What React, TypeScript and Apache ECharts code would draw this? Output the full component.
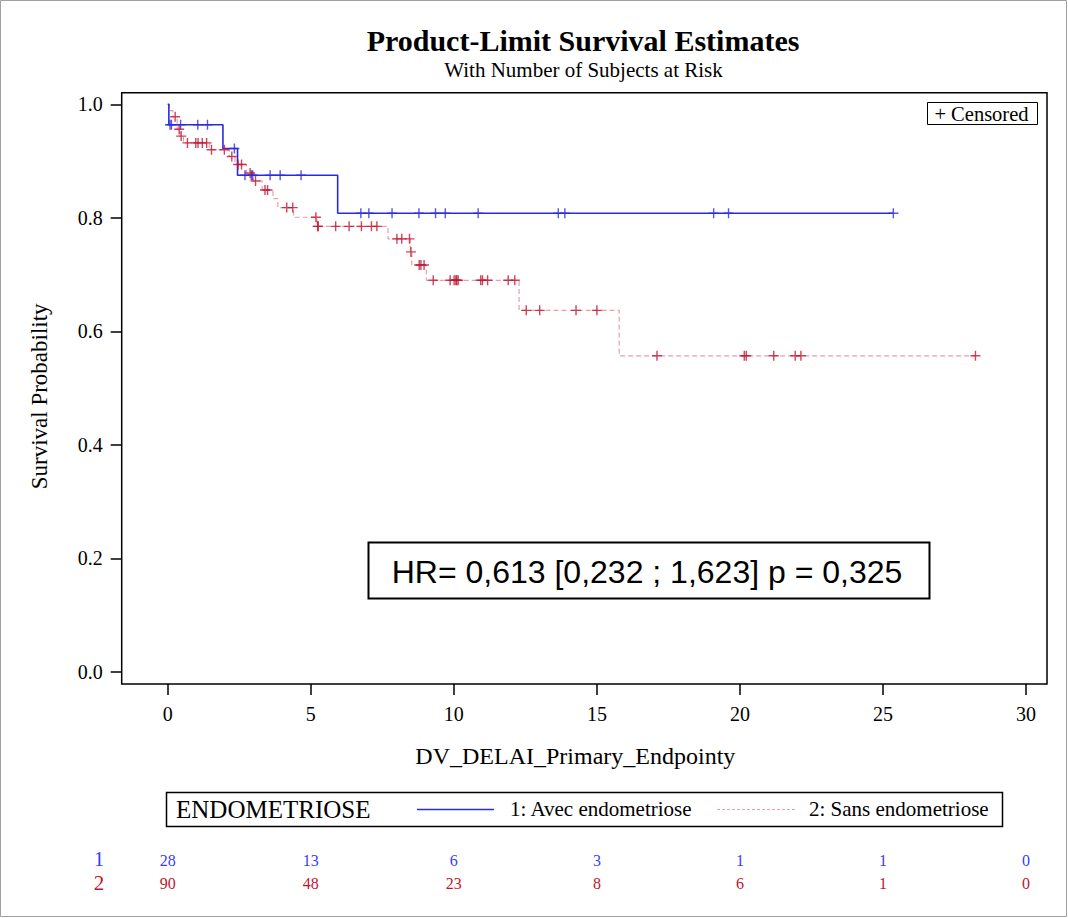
import React, { useEffect, useRef } from "react";
import * as echarts from "echarts";

// ---- Data ----
const xTicks = [0, 5, 10, 15, 20, 25, 30];
const yTicks = [0, 0.2, 0.4, 0.6, 0.8, 1.0];

// Group 1: Avec endometriose (Kaplan-Meier steps)
const blueEventTimes = [0, 0.04, 1.93, 2.44, 5.94];
const blueSurvival = [1, 0.964, 0.922, 0.875, 0.808];
const blueLastTime = 25.36;
const blueCensorTimes = [
  0.08, 0.13, 0.45, 1.05, 1.39, 2.33, 2.7, 2.92, 2.97, 3.58, 3.93, 4.66,
  6.75, 7.03, 7.84, 8.78, 9.36, 9.7, 10.85, 13.65, 13.88, 19.08, 19.6, 25.36,
];

// Group 2: Sans endometriose
const redEventTimes = [
  0, 0.06, 0.18, 0.33, 0.43, 0.55, 1.45, 2.15, 2.35, 2.75, 3.0, 3.3, 3.68,
  3.85, 4.4, 5.22, 7.7, 8.48, 8.53, 9.04, 12.28, 15.78,
];
const redSurvival = [
  1, 0.989, 0.978, 0.956, 0.944, 0.932, 0.92, 0.908, 0.894, 0.879, 0.865,
  0.849, 0.834, 0.818, 0.801, 0.785, 0.763, 0.74, 0.717, 0.69, 0.637, 0.557,
];
const redLastTime = 28.23;
const redCensorTimes = [
  0.26, 0.4, 0.47, 0.69, 0.98, 1.06, 1.21, 1.36, 1.53, 1.98, 2.24, 2.46,
  2.58, 2.88, 3.07, 3.4, 3.49, 4.16, 4.37, 5.18, 5.24, 5.26, 5.87, 6.34,
  6.77, 7.12, 7.31, 8.01, 8.18, 8.45, 8.5, 8.79, 8.85, 8.96, 9.28, 9.87,
  10.01, 10.07, 10.1, 10.15, 10.94, 11.0, 11.18, 11.9, 12.13, 12.53, 13.0,
  14.27, 15.0, 17.1, 20.15, 20.22, 21.18, 21.93, 22.13, 28.23,
];

const atRiskBlue = [28, 13, 6, 3, 1, 1, 0];
const atRiskRed = [90, 48, 23, 8, 6, 1, 0];

const hrText = "HR= 0,613 [0,232 ; 1,623] p = 0,325";

// ---- Styles ----
const BLUE = "#2a2ae0";
const BLUE_TEXT = "#3b3bff";
const RED = "#c0142e";
const PINK = "#e8a0aa";
const SERIF = "'Liberation Serif', 'Times New Roman', serif";
const SANS = "'Liberation Sans', Arial, sans-serif";
const PLUS = "path://M0,4.3H10V5.7H0ZM4.3,0H5.7V10H4.3Z";

const X_MIN = -1.608;
const X_MAX = 30.73;

function survivalAt(times: number[], surv: number[], t: number) {
  let s = surv[0];
  for (let i = 0; i < times.length; i++) {
    if (times[i] <= t) s = surv[i];
  }
  return s;
}

function stepData(times: number[], surv: number[], last: number) {
  const d = times.map((t, i) => [t, surv[i]]);
  d.push([last, surv[surv.length - 1]]);
  return d;
}

export default function App() {
  const ref = useRef<HTMLDivElement>(null);

  useEffect(() => {
    if (!ref.current) return;
    const chart = echarts.init(ref.current, null, { renderer: "svg" });

    const atRiskAxis = (vals: number[], color: string, offset: number) => ({
      type: "value",
      gridIndex: 0,
      position: "bottom",
      offset,
      min: X_MIN,
      max: X_MAX,
      axisLine: { show: false, onZero: false },
      axisTick: { show: false },
      splitLine: { show: false },
      axisLabel: {
        customValues: xTicks,
        margin: 0,
        verticalAlign: "middle",
        color,
        fontFamily: SERIF,
        fontSize: 16,
        formatter: (v: number) => String(vals[xTicks.indexOf(Math.round(v))]),
      },
    });

    const option: any = {
      animation: false,
      backgroundColor: "#ffffff",
      grid: {
        left: 121.7,
        right: 21,
        top: 92.7,
        bottom: 234,
        show: true,
        borderColor: "#000",
        borderWidth: 1.5,
        backgroundColor: "transparent",
      },
      xAxis: [
        {
          type: "value",
          min: X_MIN,
          max: X_MAX,
          name: "DV_DELAI_Primary_Endpointy",
          nameLocation: "middle",
          nameGap: 60,
          nameTextStyle: {
            fontFamily: SERIF,
            fontSize: 24,
            color: "#000",
            padding: [0, 18, 0, 0],
          },
          axisLine: { show: false, onZero: false },
          axisTick: {
            show: true,
            customValues: xTicks,
            length: 11,
            lineStyle: { color: "#000", width: 1.5 },
          },
          axisLabel: {
            customValues: xTicks,
            margin: 20,
            color: "#000",
            fontFamily: SERIF,
            fontSize: 20,
          },
          splitLine: { show: false },
        },
        atRiskAxis(atRiskBlue, BLUE_TEXT, 176),
        atRiskAxis(atRiskRed, RED, 199),
      ],
      yAxis: {
        type: "value",
        min: -0.0211,
        max: 1.0204,
        name: "Survival Probability",
        nameLocation: "middle",
        nameRotate: 90,
        nameGap: 71,
        nameTextStyle: {
          fontFamily: SERIF,
          fontSize: 23,
          color: "#000",
          padding: [0, 16, 0, 0],
        },
        axisLine: { show: false, onZero: false },
        axisTick: {
          show: true,
          customValues: yTicks,
          length: 11,
          lineStyle: { color: "#000", width: 1.5 },
        },
        axisLabel: {
          customValues: yTicks,
          margin: 19,
          color: "#000",
          fontFamily: SERIF,
          fontSize: 20,
          formatter: (v: number) => v.toFixed(1),
        },
        splitLine: { show: false },
      },
      series: [
        {
          name: "2: Sans endometriose",
          type: "line",
          step: "end",
          showSymbol: false,
          data: stepData(redEventTimes, redSurvival, redLastTime),
          lineStyle: { color: PINK, width: 1.2, type: [5, 3] },
          z: 2,
        },
        {
          name: "1: Avec endometriose",
          type: "line",
          step: "end",
          showSymbol: false,
          data: stepData(blueEventTimes, blueSurvival, blueLastTime),
          lineStyle: { color: BLUE, width: 1.6 },
          z: 3,
        },
        {
          name: "Censored 1",
          type: "scatter",
          symbol: PLUS,
          symbolSize: 10,
          data: blueCensorTimes.map((t) => [t, survivalAt(blueEventTimes, blueSurvival, t)]),
          itemStyle: { color: BLUE },
          z: 4,
        },
        {
          name: "Censored 2",
          type: "scatter",
          symbol: PLUS,
          symbolSize: 10,
          data: redCensorTimes.map((t) => [t, survivalAt(redEventTimes, redSurvival, t)]),
          itemStyle: { color: RED },
          z: 5,
        },
      ],
      graphic: [
        {
          type: "rect",
          shape: { x: 0.5, y: 0.5, width: 1066, height: 916 },
          style: { fill: "none", stroke: "#a0a0a0", lineWidth: 1 },
          silent: true,
        },
        {
          type: "text",
          x: 583,
          y: 40,
          style: {
            text: "Product-Limit Survival Estimates",
            font: `bold 30px ${SERIF}`,
            fill: "#000",
            align: "center",
            verticalAlign: "middle",
          },
        },
        {
          type: "text",
          x: 583.5,
          y: 70,
          style: {
            text: "With Number of Subjects at Risk",
            font: `21px ${SERIF}`,
            fill: "#000",
            align: "center",
            verticalAlign: "middle",
          },
        },
        {
          type: "rect",
          shape: { x: 927.5, y: 102.5, width: 110, height: 22 },
          style: { fill: "#fff", stroke: "#000", lineWidth: 1 },
          z: 10,
        },
        {
          type: "text",
          x: 981.5,
          y: 114,
          z: 11,
          style: {
            text: "+ Censored",
            font: `20.5px ${SERIF}`,
            fill: "#000",
            align: "center",
            verticalAlign: "middle",
          },
        },
        {
          type: "rect",
          shape: { x: 368.5, y: 542.5, width: 561, height: 56 },
          style: { fill: "#fff", stroke: "#000", lineWidth: 2 },
          z: 10,
        },
        {
          type: "text",
          x: 647,
          y: 572,
          z: 11,
          style: {
            text: hrText,
            font: `32px ${SANS}`,
            fill: "#000",
            align: "center",
            verticalAlign: "middle",
          },
        },
        // Legend
        {
          type: "rect",
          shape: { x: 166.5, y: 792.5, width: 836, height: 34 },
          style: { fill: "#fff", stroke: "#000", lineWidth: 1.5 },
        },
        {
          type: "text",
          x: 176,
          y: 809,
          style: {
            text: "ENDOMETRIOSE",
            font: `25px ${SERIF}`,
            fill: "#000",
            align: "left",
            verticalAlign: "middle",
          },
        },
        {
          type: "line",
          shape: { x1: 417, y1: 809.5, x2: 494, y2: 809.5 },
          style: { stroke: BLUE, lineWidth: 1.5 },
        },
        {
          type: "text",
          x: 510,
          y: 809,
          style: {
            text: "1: Avec endometriose",
            font: `21px ${SERIF}`,
            fill: "#000",
            align: "left",
            verticalAlign: "middle",
          },
        },
        {
          type: "line",
          shape: { x1: 717, y1: 809.5, x2: 796, y2: 809.5 },
          style: { stroke: PINK, lineWidth: 1.2, lineDash: [3, 2] },
        },
        {
          type: "text",
          x: 809,
          y: 809,
          style: {
            text: "2: Sans endometriose",
            font: `21px ${SERIF}`,
            fill: "#000",
            align: "left",
            verticalAlign: "middle",
          },
        },
        // At-risk group labels
        {
          type: "text",
          x: 99,
          y: 859,
          style: {
            text: "1",
            font: `21px ${SERIF}`,
            fill: BLUE_TEXT,
            align: "center",
            verticalAlign: "middle",
          },
        },
        {
          type: "text",
          x: 99,
          y: 883,
          style: {
            text: "2",
            font: `21px ${SERIF}`,
            fill: RED,
            align: "center",
            verticalAlign: "middle",
          },
        },
      ],
    };

    chart.setOption(option);
    return () => chart.dispose();
  }, []);

  return (
    <div
      ref={ref}
      style={{
        position: "fixed",
        left: 0,
        top: 0,
        width: 1068,
        height: 918,
        background: "#fff",
      }}
    />
  );
}
